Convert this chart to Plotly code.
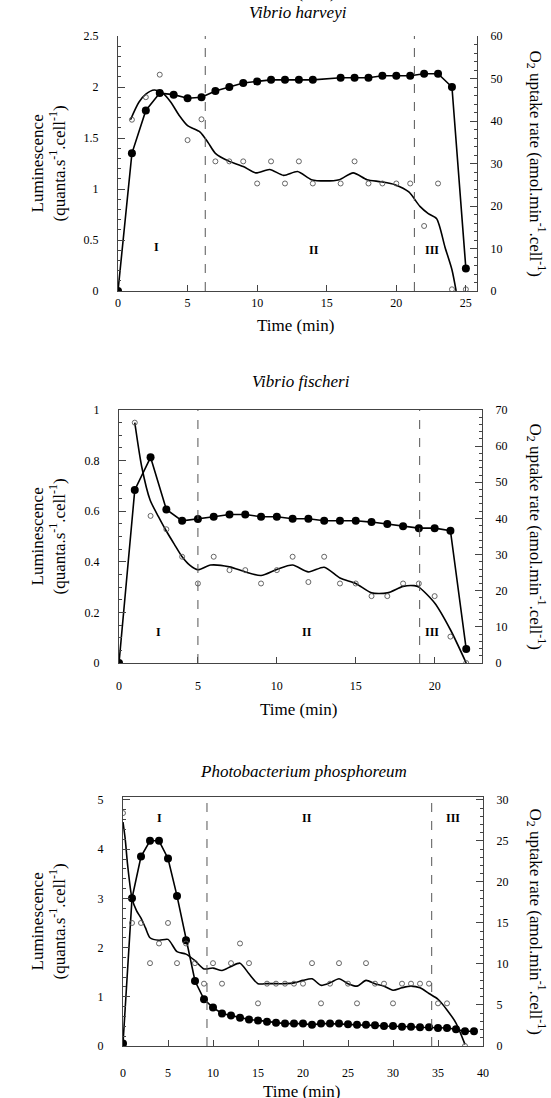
import plotly.graph_objects as go

W, H = 551, 1098
FONT = "Liberation Serif"

# ---------------- Data ----------------
# Vibrio harveyi
vh_t = [0, 1, 2, 3, 4, 5, 6, 7, 8, 9, 10, 11, 12, 13, 14, 16, 17, 18, 19, 20, 21, 22, 23, 24, 25]
vh_lum = [0, 1.35, 1.77, 1.94, 1.925, 1.89, 1.90, 1.96, 2.0, 2.04, 2.055, 2.07, 2.07, 2.07, 2.07,
          2.09, 2.09, 2.09, 2.11, 2.11, 2.11, 2.13, 2.13, 2.0, 0.22]
vh_o2_t = [1, 2, 3, 5, 6, 7, 8, 9, 10, 11, 12, 13, 14, 16, 17, 18, 19, 20, 21, 22, 23, 24, 25]
vh_o2 = [40.3, 45.6, 50.9, 35.5, 40.4, 30.5, 30.5, 30.5, 25.3, 30.5, 25.3, 30.5, 25.3,
         25.3, 30.5, 25.3, 25.3, 25.3, 25.3, 15.3, 25.3, 0.4, 0.4]
vh_fit_t = [0.9, 1.5, 2.0, 2.6, 3.2, 3.8, 4.4, 5.0, 5.9, 6.5, 7.0, 8.0, 9.0, 9.9, 10.9, 11.9, 12.9,
            13.9, 14.9, 15.9, 16.9, 17.9, 18.9, 19.9, 20.9, 21.7, 22.3, 22.9, 23.5, 24.0, 24.3]
vh_fit = [40.3, 44.4, 46.3, 47.3, 46.6, 44.4, 41.3, 38.9, 37.4, 34.8, 32.4, 30.5, 29.3, 27.8, 28.6,
          27.2, 28.1, 26.2, 25.9, 26.2, 27.8, 26.2, 25.7, 25.0, 23.3, 19.9, 18.2, 17.0, 10.3, 5.0, 0.0]
vh_phase = [6.27, 21.3]

# Vibrio fischeri
vf_t = list(range(0, 23))
vf_lum = [0, 0.684, 0.813, 0.607, 0.562, 0.569, 0.578, 0.587, 0.587, 0.578, 0.578, 0.570, 0.570,
          0.562, 0.562, 0.562, 0.557, 0.549, 0.541, 0.533, 0.533, 0.523, 0.055]
vf_o2_t = list(range(1, 23))
vf_o2 = [66.5, 40.7, 37.0, 29.4, 22.0, 29.4, 25.7, 25.7, 22.0, 25.7, 29.4, 22.4, 29.4, 22.0, 22.0,
         18.5, 18.5, 22.0, 22.0, 18.5, 7.3, 0.0]
vf_fit_t = [1, 1.44, 1.97, 2.5, 2.96, 3.5, 4, 4.5, 5, 5.8, 7, 8, 9, 10, 11, 12, 13, 14, 15, 16, 17,
            18, 18.7, 19, 20, 21, 22]
vf_fit = [66.5, 54.3, 45.1, 40.5, 36.8, 32.9, 29.4, 27.0, 25.8, 27.1, 26.6, 25.2, 24.2, 25.9, 27.1,
          25.2, 26.5, 23.5, 22.0, 19.4, 19.4, 21.2, 21.4, 21.0, 16.6, 9.2, 0.0]
vf_phase = [5.0, 19.05]

# Photobacterium phosphoreum
pp_t = list(range(0, 40))
pp_lum = [0.05, 3.0, 3.85, 4.17, 4.17, 3.81, 3.05, 2.15, 1.32, 0.95, 0.78, 0.66, 0.62, 0.575, 0.54,
          0.52, 0.495, 0.47, 0.455, 0.455, 0.455, 0.43, 0.455, 0.455, 0.455, 0.44, 0.43, 0.43, 0.42,
          0.405, 0.405, 0.39, 0.39, 0.38, 0.38, 0.365, 0.365, 0.34, 0.30, 0.30]
pp_o2_t = [0, 1, 2, 3, 4, 5, 6, 7, 8, 9, 10, 11, 12, 13, 14, 15, 16, 17, 18, 19, 20, 21, 22, 23, 24,
           25, 26, 27, 28, 29, 30, 31, 32, 33, 34, 35, 36, 38]
pp_o2 = [28.4, 15.0, 15.0, 10.1, 12.5, 15.0, 10.1, 12.5, 10.1, 7.6, 10.1, 7.6, 10.1, 12.5, 10.1, 5.2,
         7.6, 7.6, 7.6, 7.6, 7.6, 10.1, 5.2, 7.6, 10.1, 7.6, 5.2, 10.1, 7.6, 7.6, 5.2, 7.6, 7.6, 7.6,
         7.6, 5.2, 5.2, 0.0]
pp_fit_t = [0, 0.25, 0.5, 1, 1.5, 2, 2.5, 3, 4, 5, 6, 7, 8, 9, 10, 11, 12, 13, 14, 15, 16, 17, 18, 19,
            20, 21, 22, 23, 24, 25, 26, 27, 28, 29, 30, 31, 32, 33, 34, 35, 36, 37, 38]
pp_fit = [27.3, 25.2, 22.2, 18.0, 16.5, 15.6, 14.4, 13.2, 12.9, 13.0, 11.5, 11.2, 10.4, 9.4, 9.5, 9.2,
          9.7, 10.1, 8.8, 7.6, 7.6, 7.6, 7.6, 7.7, 8.0, 8.2, 7.4, 7.7, 8.2, 7.6, 7.3, 8.0, 7.6, 7.3,
          6.8, 7.1, 7.3, 7.1, 6.4, 5.7, 4.4, 2.8, 0.2]
pp_phase = [9.33, 34.3]

titles = ["Vibrio harveyi", "Vibrio fischeri", "Photobacterium phosphoreum"]
phase_labels = ["I", "II", "III"]

# ---------------- Layout geometry (pixels) ----------------
panels = [
    dict(t=vh_t, lum=vh_lum, o2t=vh_o2_t, o2=vh_o2, ft=vh_fit_t, fit=vh_fit, phase=vh_phase,
         box=(118, 477, 36, 291), xr=[0, 25.8], xt=[0, 5, 10, 15, 20, 25],
         yl=[0, 2.5], ylt=[0, 0.5, 1, 1.5, 2, 2.5], yltx=["0", "0.5", "1", "1.5", "2", "2.5"], ylm=0.1,
         yr=[0, 60], yrt=[0, 10, 20, 30, 40, 50, 60], yrm=2,
         lab=[(2.76, 0.43), (14.1, 0.40), (22.6, 0.40)], frame=False,
         title_y=13, xtitle_y=325, xstand=1),
    dict(t=vf_t, lum=vf_lum, o2t=vf_o2_t, o2=vf_o2, ft=vf_fit_t, fit=vf_fit, phase=vf_phase,
         box=(119, 482, 410, 663), xr=[0, 23], xt=[0, 5, 10, 15, 20],
         yl=[0, 1], ylt=[0, 0.2, 0.4, 0.6, 0.8, 1], yltx=["0", "0.2", "0.4", "0.6", "0.8", "1"], ylm=0.05,
         yr=[0, 70], yrt=[0, 10, 20, 30, 40, 50, 60, 70], yrm=2,
         lab=[(2.5, 0.124), (11.9, 0.124), (19.8, 0.124)], frame=True,
         title_y=381, xtitle_y=709, xstand=12),
    dict(t=pp_t, lum=pp_lum, o2t=pp_o2_t, o2=pp_o2, ft=pp_fit_t, fit=pp_fit, phase=pp_phase,
         box=(123, 483, 797, 1046), xr=[0, 40], xt=[0, 5, 10, 15, 20, 25, 30, 35, 40],
         yl=[0, 5.06], ylt=[0, 1, 2, 3, 4, 5], yltx=["0", "1", "2", "3", "4", "5"], ylm=0.2,
         yr=[0, 30.36], yrt=[0, 5, 10, 15, 20, 25, 30], yrm=1,
         lab=[(4.1, 4.63), (20.4, 4.63), (36.7, 4.63)], frame=True,
         title_y=771, xtitle_y=1091, xstand=16),
]

fig = go.Figure()
annotations = []
shapes = []
layout = {}

tickfont = dict(family=FONT, size=12, color="black")
axcol = "#444"

for i, p in enumerate(panels):
    xa = "x" if i == 0 else f"x{i+1}"
    yl = "y" if i == 0 else f"y{2*i+1}"
    yr = f"y{2*i+2}"
    x0, x1, ytop, ybot = p["box"]
    xdom = [x0 / W, x1 / W]
    ydom = [1 - ybot / H, 1 - ytop / H]

    layout["xaxis" if i == 0 else f"xaxis{i+1}"] = dict(
        domain=xdom, range=p["xr"], anchor=yl, tickvals=p["xt"], ticks="inside", ticklen=6,
        tickcolor=axcol, showline=True, linecolor=axcol, linewidth=1, mirror=p["frame"],
        showgrid=False, zeroline=False, tickfont=tickfont, ticklabelstandoff=p["xstand"],
        automargin=False)
    layout["yaxis" if i == 0 else f"yaxis{2*i+1}"] = dict(
        domain=ydom, range=p["yl"], anchor=xa, tickvals=p["ylt"], ticktext=p["yltx"],
        ticks="inside", ticklen=7, tickcolor=axcol, showline=True, linecolor=axcol, linewidth=1,
        showgrid=False, zeroline=False, tickfont=tickfont, ticklabelstandoff=16, automargin=False,
        minor=dict(ticks="inside", ticklen=3, dtick=p["ylm"], tickcolor=axcol, showgrid=False))
    layout[f"yaxis{2*i+2}"] = dict(
        domain=ydom, range=p["yr"], anchor=xa, overlaying=yl, side="right", tickvals=p["yrt"],
        ticks="inside", ticklen=7, tickcolor=axcol, showline=True, linecolor=axcol, linewidth=1,
        showgrid=False, zeroline=False, tickfont=tickfont, ticklabelstandoff=10, automargin=False,
        minor=dict(ticks="inside", ticklen=3, dtick=p["yrm"], tickcolor=axcol, showgrid=False))

    # fitted O2 curve
    fig.add_trace(go.Scatter(x=p["ft"], y=p["fit"], mode="lines", xaxis=xa, yaxis=yr,
                             line=dict(color="black", width=1.6, shape="spline", smoothing=0.7),
                             showlegend=False, hoverinfo="skip"))
    # O2 open circles
    fig.add_trace(go.Scatter(x=p["o2t"], y=p["o2"], mode="markers", xaxis=xa, yaxis=yr,
                             marker=dict(symbol="circle-open", size=5, color="#555",
                                         line=dict(width=0.9, color="#555")),
                             showlegend=False))
    # luminescence filled circles
    fig.add_trace(go.Scatter(x=p["t"], y=p["lum"], mode="lines+markers", xaxis=xa, yaxis=yl,
                             line=dict(color="black", width=1.6),
                             marker=dict(size=8, color="black"), showlegend=False))

    # phase boundaries
    for xv in p["phase"]:
        shapes.append(dict(type="line", xref=xa, yref=f"{yl} domain", x0=xv, x1=xv, y0=0, y1=1,
                           line=dict(color="#555", width=1, dash="dash")))
    # phase labels
    for lab, (lx, ly) in zip(phase_labels, p["lab"]):
        annotations.append(dict(text=f"<b>{lab}</b>", x=lx, y=ly, xref=xa, yref=yl, showarrow=False,
                                font=dict(family=FONT, size=12, color="black")))

    cx = (x0 + x1) / 2
    cy = (ytop + ybot) / 2
    # panel title
    annotations.append(dict(text=f"<i>{titles[i]}</i>", x=cx / W, y=1 - p["title_y"] / H,
                            xref="paper", yref="paper", showarrow=False, yanchor="middle",
                            font=dict(family=FONT, size=17, color="black")))
    # x axis title
    annotations.append(dict(text="Time (min)", x=(cx - 2) / W, y=1 - p["xtitle_y"] / H,
                            xref="paper", yref="paper", showarrow=False, yanchor="middle",
                            font=dict(family=FONT, size=17, color="black")))
    # left axis title (two lines)
    annotations.append(dict(text="Luminescence", x=37 / W, y=1 - cy / H, xref="paper", yref="paper",
                            showarrow=False, textangle=-90, xanchor="center", yanchor="middle",
                            font=dict(family=FONT, size=17, color="black")))
    annotations.append(dict(text="(quanta.s<sup>-1</sup>.cell<sup>-1</sup>)", x=57 / W, y=1 - cy / H,
                            xref="paper", yref="paper", showarrow=False, textangle=-90,
                            xanchor="center", yanchor="middle",
                            font=dict(family=FONT, size=17, color="black")))
    # right axis title
    annotations.append(dict(text="O<sub>2</sub> uptake rate (amol.min<sup>-1</sup>.cell<sup>-1</sup>)",
                            x=536 / W, y=1 - cy / H, xref="paper", yref="paper", showarrow=False,
                            textangle=90, xanchor="center", yanchor="middle",
                            font=dict(family=FONT, size=17, color="black")))

# clipped fragment of a preceding axis title at the very top
annotations.append(dict(text="Time (min)", x=296 / W, y=1 + 8 / H, xref="paper", yref="paper",
                        showarrow=False, yanchor="middle",
                        font=dict(family=FONT, size=17, color="black")))

fig.update_layout(template="none", width=W, height=H, margin=dict(l=0, r=0, t=0, b=0, pad=0),
                  paper_bgcolor="white", plot_bgcolor="white",
                  font=dict(family=FONT, color="black"),
                  annotations=annotations, shapes=shapes, showlegend=False, **layout)

fig.write_html("out.html", config={"displayModeBar": False},
               post_script="document.body.style.margin='0';document.body.style.overflow='hidden';")
